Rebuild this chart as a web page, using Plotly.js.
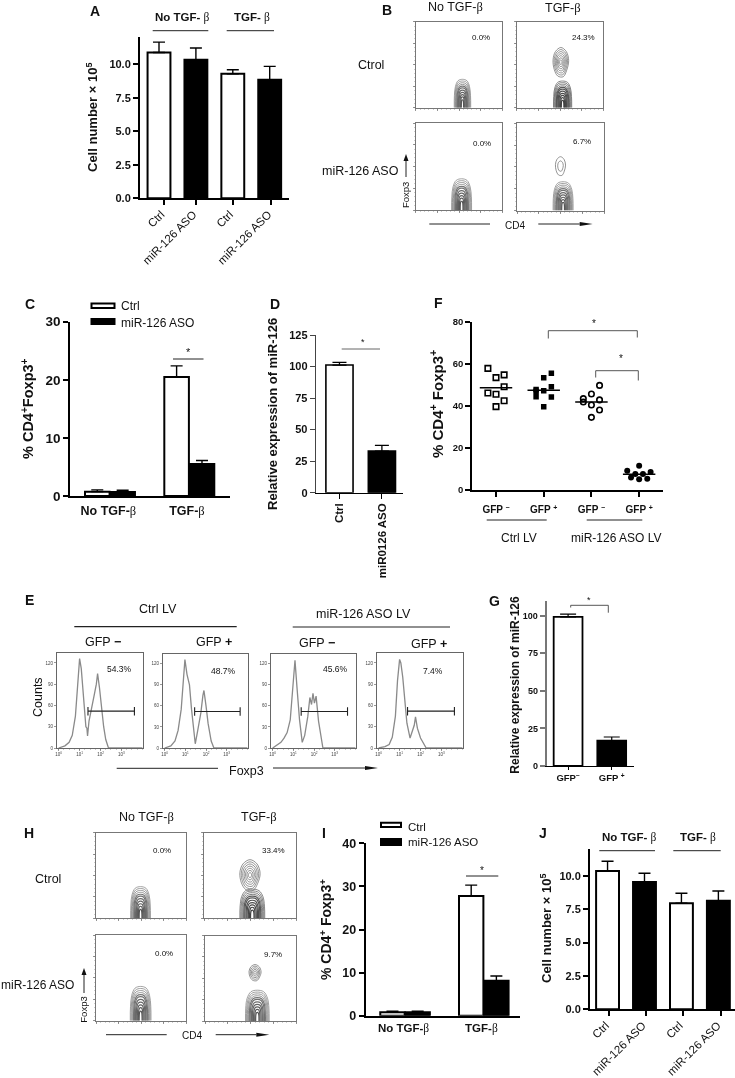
<!DOCTYPE html>
<html>
<head>
<meta charset="utf-8">
<script src="https://cdn.plot.ly/plotly-3.0.1.min.js"></script>
<style>html,body{margin:0;padding:0;background:#fff}#plot{width:735px;height:1078px;filter:blur(0.35px)}</style>
</head>
<body>
<div id="plot"></div>
<script>
const up = s => '<span style="font-size:70%;baseline-shift:super">' + s + '</span>';
// ---------- Data ----------
const aCategories = ['Ctrl','miR-126 ASO','Ctrl','miR-126 ASO'];
const aValues = [10.87,10.32,9.28,8.83];
const aErrors = [0.77,0.88,0.30,1.00];
const jValues = [10.38,9.55,7.95,8.15];
const jErrors = [0.72,0.65,0.75,0.72];
const cGroups = ['No TGF-β','TGF-β'];
const cCtrl = [0.75,20.5];
const cCtrlErr = [0.3,1.9];
const cAso = [0.7,5.5];
const cAsoErr = [0.3,0.6];
const iCtrl = [0.8,27.8];
const iCtrlErr = [0.25,2.5];
const iAso = [0.8,8.1];
const iAsoErr = [0.25,1.1];
const dCategories = ['Ctrl','miR0126 ASO'];
const dValues = [101.2,33];
const dErrors = [2.1,4.5];
const gCategories = ['GFP'+up('−'),'GFP '+up('+')];
const gValues = [99.3,16.9];
const gErrors = [1.8,2.4];
const fCategories = ['GFP '+up('−'),'GFP '+up('+'),'GFP '+up('−'),'GFP '+up('+')];
const fOpenSqX = [-.17,0,.17,.17,-.17,0,.17,0];
const fOpenSqY = [57.9,53.5,54.8,49.2,46.2,45.6,42.5,39.7];
const fFillSqX = [1.16,1,.84,1,1.16,.84,.84,1.16,1];
const fFillSqY = [55.6,53.5,47.9,47.3,49.2,47,44.4,44.3,39.7];
const fOpenCirX = [2.17,2,1.83,1.83,2.17,2,2.17,2];
const fOpenCirY = [49.8,45.7,43.5,41.9,42.9,40.5,38.1,34.6];
const fFillCirX = [3,2.75,3.24,2.92,3.08,2.83,3.17,3];
const fFillCirY = [11.6,9.2,8.6,7.6,7.6,5.9,5.4,5.1];
const fMedians = [48.7,47.5,41.9,7.5];
// histograms: log10(Foxp3) against counts
const e1X = [0,.3,.5,.65,.8,.9,1,1.08,1.15,1.22,1.3,1.35,1.38,1.45,1.55,1.7,1.8,1.86,1.95,2.05,2.15,2.25,2.38,4];
const e1Y = [0,3,8,18,45,85,126,112,85,62,30,28,17,38,55,75,90,105,85,55,30,12,0,0];
const e2X = [0,.3,.5,.65,.8,.9,.98,1.08,1.2,1.3,1.4,1.48,1.6,1.75,1.85,1.9,2,2.1,2.25,2.38,4];
const e2Y = [0,3,10,25,55,95,126,105,90,55,22,6,25,50,75,82,60,35,10,0,0];
const e3X = [0,.2,.4,.55,.7,.85,1,1.08,1.18,1.3,1.43,1.55,1.7,1.8,1.88,1.95,2.02,2.1,2.22,2.33,2.43,4];
const e3Y = [0,4,8,14,22,40,95,125,85,40,8,18,45,72,62,78,64,74,38,15,0,0];
const e4X = [0,.3,.5,.65,.8,.9,1,1.06,1.15,1.25,1.35,1.5,1.6,1.7,1.76,1.85,2,2.15,2.27,4];
const e4Y = [0,2,5,15,45,95,125,120,100,70,35,14,22,32,44,28,14,5,0,0];
const eGates = [[1.4,3.62,52],[1.45,3.65,52],[1.38,3.62,52],[1.38,3.62,52]];
// contour outlines
const domeOutlineX = [-1,-.98,-.86,-.54,0,.54,.86,.98,1];
const domeOutlineY = [0,.42,.74,.95,1,.95,.74,.42,0];
const ovalOutlineX = [0,.7,1,.75,.3,-.4,-.85,-1,-.7,0];
const ovalOutlineY = [1,.72,.1,-.55,-1,-.95,-.5,.15,.72,1];
const domeRingWidth = [1,.92,.84,.76,.68,.6,.5,.42,.32,.22,.14];
const domeRingHeight = [1,.94,.88,.82,.76,.7,.62,.54,.46,.38,.28];
const ovalRingsFull = [1,.86,.72,.58,.44,.3,.16];
const ovalRingsSparse = [1,.55];
const ovalRingsSmall = [1,.8,.6,.4,.2];
// flow panels: [centre, half width, height] for domes, [centre, half width, mid height, half height] for ovals
const b1Dome = [54,9.5,33];
const b2Dome = [53,10.5,31];
const b2Oval = [51,9,53,17];
const b3Dome = [53,11.5,36];
const b4Dome = [53,11.5,33];
const b4Oval = [50,5.8,51,10.7];
const h1Dome = [49.5,11,37];
const h2Dome = [52.5,13.5,34];
const h2Oval = [50,11,50.5,18];
const h3Dome = [49.6,11.5,40];
const h4Dome = [57.5,13,36];
const h4Oval = [55,6.6,56.6,9.4];

// ---------- Page geometry helpers ----------
const W = 735, H = 1078;
const SANS = 'Liberation Sans, Arial, sans-serif';
const px = v => v / W, py = v => 1 - v / H;
const beta = '<span style="font-family:Liberation Serif;font-weight:normal">β</span>';
const sym = s => s.replace('β', beta);
const layout = {width:W,height:H,margin:{l:0,r:0,t:0,b:0,pad:0},paper_bgcolor:'#fff',plot_bgcolor:'rgba(0,0,0,0)',
  showlegend:false,bargap:.32,bargroupgap:0,barmode:'group',annotations:[],shapes:[],font:{family:SANS,color:'#111'}};
const traces = [];
let axisId = 0;
function panel(box, xa, ya){
  axisId++;
  const s = axisId === 1 ? '' : String(axisId);
  layout['xaxis'+s] = Object.assign({domain:[px(box[0]),px(box[1])],anchor:'y'+s,fixedrange:true,zeroline:false,showgrid:false,automargin:false}, xa);
  layout['yaxis'+s] = Object.assign({domain:[py(box[3]),py(box[2])],anchor:'x'+s,fixedrange:true,zeroline:false,showgrid:false,automargin:false}, ya);
  return {xaxis:'x'+s,yaxis:'y'+s};
}
function note(text,x,y,size,o){
  o = o||{};
  layout.annotations.push({text:o.bold?'<b>'+text+'</b>':text,x:px(x),y:py(y),xref:'paper',yref:'paper',showarrow:false,
    xanchor:o.anchor||'center',yanchor:'middle',textangle:o.angle||0,font:{size:size,family:SANS,color:o.color||'#111'}});
}
function rule(x0,y0,x1,y1,w,c){
  layout.shapes.push({type:'line',xref:'paper',yref:'paper',x0:px(x0),y0:py(y0),x1:px(x1),y1:py(y1),line:{width:w||1,color:c||'#222'}});
}
function tri(a,b,c){
  const p = q => px(q[0]).toFixed(5)+','+py(q[1]).toFixed(5);
  layout.shapes.push({type:'path',xref:'paper',yref:'paper',path:'M'+p(a)+'L'+p(b)+'L'+p(c)+'Z',fillcolor:'#111',line:{width:0}});
}
function arrowRight(x0,x1,y,head){rule(x0,y,x1-head,y,1);tri([x1,y],[x1-head,y-2],[x1-head,y+2]);}
function arrowUp(x,y0,y1){rule(x,y0,x,y1+6,1);tri([x,y1],[x-2.5,y1+7],[x+2.5,y1+7]);}
function swatch(x0,y0,x1,y1,fill){
  layout.shapes.push({type:'rect',xref:'paper',yref:'paper',x0:px(x0),y0:py(y0),x1:px(x1),y1:py(y1),fillcolor:fill,line:{width:2,color:'#000'}});
}
function errBar(arr,w,t){return {type:'data',symmetric:false,array:arr,arrayminus:arr.map(()=>0),color:'#000',thickness:t||1.4,width:w||6};}
function valueAxis(range,tickvals,ticktext,size,lw,color){
  return {range:range,tickvals:tickvals,ticktext:ticktext,ticks:'outside',ticklen:5,tickwidth:lw,tickcolor:color||'#000',showline:true,
    linewidth:lw,linecolor:color||'#000',tickfont:{size:size,family:SANS,weight:'bold',color:'#111'}};
}
function catAxis(range,tickvals,ticktext,size,lw,angle,len,bold){
  return {range:range,tickmode:'array',tickvals:tickvals,ticktext:ticktext,ticks:len?'outside':'',ticklen:len||0,tickwidth:lw,tickcolor:'#000',
    showline:true,linewidth:lw,linecolor:'#000',tickangle:angle||0,tickfont:{size:size,family:SANS,weight:bold===false?'normal':'bold',color:'#111'}};
}

// ---------- Four-bar cell number panels (A, J) ----------
function fourBars(box,range,tickPos,vals,errs,categories){
  const a = panel(box,
    Object.assign(catAxis(range,tickPos,categories,11.5,2,-45,5,false),{ticklabelshift:-3,ticklabelstandoff:-2}),
    valueAxis([0,12],[0,2.5,5,7.5,10],['0.0','2.5','5.0','7.5','10.0'],11,2));
  traces.push(Object.assign({type:'bar',x:vals.map((_,i)=>i),y:vals,width:.62,
    marker:{color:['#fff','#000','#fff','#000'],line:{color:'#000',width:2}},error_y:errBar(errs,6)},a));
}
fourBars([140,288.7,37.3,198.3],[-.515,3.515],[.14,1.01,2,3.04],aValues,aErrors,aCategories);
fourBars([590,735,849.3,1009.3],[-.475,3.45],[.03,1.03,2.03,3.06],jValues,jErrors,aCategories);

// ---------- Grouped panels (C, I) ----------
function twoGroups(box,xr,ytop,ticks,ctrl,ctrlE,aso,asoE,size,gap,standoff){
  const a = panel(box,
    Object.assign(catAxis(xr,[-.02,.97],cGroups.map(sym),size,2,0,0),{ticklabelstandoff:standoff}),
    valueAxis([0,ytop],ticks,ticks.map(String),size+1,2));
  traces.push(Object.assign({type:'bar',name:'Ctrl',x:[0,1],y:ctrl,offsetgroup:'a',width:gap,offset:-gap-.005,
    marker:{color:'#fff',line:{color:'#000',width:2}},error_y:errBar(ctrlE,6)},a));
  traces.push(Object.assign({type:'bar',name:'miR-126 ASO',x:[0,1],y:aso,offsetgroup:'b',width:gap,offset:.005,
    marker:{color:'#000',line:{color:'#000',width:2}},error_y:errBar(asoE,6)},a));
}
twoGroups([70.3,230,321.7,496],[-.5,1.513],30,[0,10,20,30],cCtrl,cCtrlErr,cAso,cAsoErr,12.5,.31,2);
twoGroups([365.7,520,843.3,1015.7],[-.5,1.46],40,[0,10,20,30,40],iCtrl,iCtrlErr,iAso,iAsoErr,11.5,.31,0);

// ---------- Panel D ----------
const dA = panel([315.7,402.7,335,492.7],
  catAxis([-.56,1.49],[0,1],dCategories,11.5,1,-90,5),
  valueAxis([0,125],[0,25,50,75,100,125],['0','25','50','75','100','125'],11,1,'#444'));
traces.push(Object.assign({type:'bar',x:[0,1],y:dValues,width:.64,marker:{color:['#fff','#000'],line:{color:'#000',width:1.6}},error_y:errBar(dErrors,7,1.3)},dA));

// ---------- Panel G ----------
const gA = panel([546.7,634,600.7,766],
  catAxis([-.49,1.51],[0,1],gCategories,9.5,1,0,3),
  valueAxis([0,110],[0,25,50,75,100],['0','25','50','75','100'],9,2,'#777'));
traces.push(Object.assign({type:'bar',x:[0,1],y:gValues,width:.66,marker:{color:['#fff','#000'],line:{color:'#000',width:1.8}},error_y:errBar(gErrors,8,1.2)},gA));

// ---------- Panel F ----------
const fA = panel([472.3,663,322,490],
  Object.assign(catAxis([-.497,3.5],[0,1,2,3],fCategories,10,2,0,5),{ticklabelstandoff:4}),
  valueAxis([0,80],[0,20,40,60,80],['0','20','40','60','80'],9.5,2,'#000'));
function dots(x,y,symbol,size){
  const open = symbol.includes('open');
  traces.push(Object.assign({type:'scatter',mode:'markers',x:x,y:y,marker:{symbol:symbol,size:size,color:'#000',line:{width:open?1.6:0,color:'#000'}}},fA));
}
dots(fOpenSqX,fOpenSqY,'square-open',5.5);
dots(fFillSqX,fFillSqY,'square',5.5);
dots(fOpenCirX,fOpenCirY,'circle-open',5.5);
dots(fFillCirX,fFillCirY,'circle',6);
fMedians.forEach((m,i)=>traces.push(Object.assign({type:'scatter',mode:'lines',x:[i-.34,i+.34],y:[m,m],line:{color:'#000',width:1.6}},fA)));

// ---------- Histogram panels (E) ----------
const logTicks = [0,1,2,3];
const logText = ['10'+up('0'),'10'+up('1'),'10'+up('2'),'10'+up('3')];
function hist(box,x,y,gate){
  const a = panel(box,
    {range:[-.08,4.03],tickvals:logTicks,ticktext:logText,ticks:'outside',ticklen:2,tickwidth:.6,tickcolor:'#555',showline:true,mirror:true,linewidth:1,linecolor:'#666',
     tickfont:{size:4.5,color:'#444'},minor:{ticks:'outside',ticklen:1,tickwidth:.4,tickcolor:'#777',dtick:.25}},
    {range:[0,134],tickvals:[0,30,60,90,120],ticktext:['0','30','60','90','120'],ticks:'outside',ticklen:2,tickwidth:.6,tickcolor:'#555',showline:true,mirror:true,linewidth:1,linecolor:'#666',
     tickfont:{size:4.5,color:'#444'}});
  traces.push(Object.assign({type:'scatter',mode:'lines',x:x,y:y,line:{color:'#8a8a8a',width:1.3}},a));
  traces.push(Object.assign({type:'scatter',mode:'lines',x:[gate[0],gate[0],gate[0],gate[1],gate[1],gate[1]],y:[gate[2]-6,gate[2]+6,gate[2],gate[2],gate[2]+6,gate[2]-6],line:{color:'#222',width:1.1}},a));
}
hist([57,143,653,748],e1X,e1Y,eGates[0]);
hist([163,248,654,748],e2X,e2Y,eGates[1]);
hist([271,356,654,748],e3X,e3Y,eGates[2]);
hist([377,463,653,748],e4X,e4Y,eGates[3]);

// ---------- Contour panels (B, H) ----------
const flowTicks = [0,25,50,75,100];
function flow(box,dome,oval,ovalRings,dark){
  const axisOpts = {range:[0,100],tickvals:flowTicks,showticklabels:false,ticks:'outside',ticklen:2,tickwidth:.7,tickcolor:'#666',
    showline:true,mirror:true,linewidth:1,linecolor:'#777',minor:{ticks:'outside',ticklen:1,tickwidth:.4,tickcolor:'#888',dtick:5}};
  const a = panel(box,Object.assign({},axisOpts),Object.assign({},axisOpts));
  domeRingWidth.forEach((rw,i)=>{
    const shade = i/domeRingWidth.length;
    const grey = Math.round((dark?105:140)-shade*(dark?45:60));
    traces.push(Object.assign({type:'scatter',mode:'lines',
      x:domeOutlineX.map(v=>dome[0]+v*dome[1]*rw),
      y:domeOutlineY.map(v=>v*dome[2]*domeRingHeight[i]),
      line:{color:'rgb('+grey+','+grey+','+grey+')',width:i>3?1.2:.8,shape:'spline',smoothing:1}},a));
  });
  if(oval) ovalRings.forEach(s=>{
    traces.push(Object.assign({type:'scatter',mode:'lines',
      x:ovalOutlineX.map(v=>oval[0]+v*oval[1]*s),
      y:ovalOutlineY.map(v=>oval[2]+v*oval[3]*s),
      line:{color:'#777',width:.8,shape:'spline',smoothing:1}},a));
  });
}
flow([415.7,502.3,21.7,107.7],b1Dome,null,null,false);
flow([516.7,603.3,21.7,107.7],b2Dome,b2Oval,ovalRingsFull,true);
flow([415.7,502.3,123.3,210],b3Dome,null,null,false);
flow([517,604,123.3,210.5],b4Dome,b4Oval,ovalRingsSparse,false);
flow([96,186,832.7,918.3],h1Dome,null,null,false);
flow([204,296,832.7,918.3],h2Dome,h2Oval,ovalRingsFull,true);
flow([96,186,935,1020.7],h3Dome,null,null,false);
flow([205,296,935.5,1021],h4Dome,h4Oval,ovalRingsSmall,false);

// ---------- Text and furniture ----------
[['A',95,11],['B',387,10],['C',30,304],['D',275,304],['E',30,600],['F',438,303],['G',494,601],['H',29,833],['I',324,833],['J',543,833]]
  .forEach(l=>note(l[0],l[1],l[2],14,{bold:true}));

// A
note('Cell number × 10'+up('5'),92,118,13,{bold:true,angle:-90});
note(sym('No TGF- β'),182,18,11.5,{bold:true});
note(sym('TGF- β'),252,18,11.5,{bold:true});
rule(152.7,30.7,208.3,30.7,1);rule(226.7,30.7,274,30.7,1);
// B
note(sym('No TGF-β'),455.7,7,12.5);note(sym('TGF-β'),562.7,8,12.5);
note('Ctrol',371,65,12.5);note('miR-126 ASO',360.5,171,12.5);
note('0.0%',480.7,38,8);note('24.3%',583,38,8);note('0.0%',482,143,8);note('6.7%',581.7,142,8);
note('Foxp3',405,195,9.5,{angle:-90});arrowUp(406,177,154);
note('CD4',515,225,10);rule(429.3,224,490,224,1);arrowRight(538.3,592.7,224,13);
// C
note('% CD4'+up('+')+'Foxp3'+up('+'),27,409,14.5,{bold:true,angle:-90});
swatch(91.5,303.5,114.5,308,'#fff');swatch(91.5,319,114.5,324,'#000');
note('Ctrl',119,306,12,{anchor:'left'});note('miR-126 ASO',119,322.5,12,{anchor:'left'});
note('*',188,352,11);rule(173,359,203.5,359,1);
// D
note('Relative expression of miR-126',273,414,13,{bold:true,angle:-90});
note('*',362.7,342,9);rule(341.7,349,380,349,1,'#666');
// E
note('Ctrl LV',157.7,609,12.5);rule(74.3,626.7,236.7,626.7,1.2);
note('miR-126 ASO LV',363,614,12.5);rule(292.7,627,450,627,1.2);
note('GFP <b>−</b>',103,641.7,12.5);note('GFP <b>+</b>',214,642,12.5);note('GFP <b>−</b>',316.7,643,12.5);note('GFP <b>+</b>',429,644,12.5);
note('54.3%',120,669,8.5);note('48.7%',223,671,8.5);note('45.6%',335.7,669,8.5);note('7.4%',433,671,8.5);
note('Counts',38,697,12.5,{angle:-90});
note('Foxp3',246,770.7,12.5);rule(116.7,768.3,218,768.3,1);arrowRight(273,378,768,13);
// F
note('% CD4'+up('+')+' Foxp3'+up('+'),436,404,15,{bold:true,angle:-90});
rule(486.7,520,546.7,520,1.2);rule(586.7,520,642.3,520,1.2);
note('Ctrl LV',519,538.3,12);note('miR-126 ASO LV',616,538.3,12);
note('*',594,323,10);note('*',621,358,10);
rule(548.3,330.7,637.3,330.7,.9,'#444');rule(548.3,330.7,548.3,338.5,.9,'#444');rule(637.3,330.7,637.3,337.5,.9,'#444');
rule(595.7,370.7,638.3,370.7,.9,'#444');rule(595.7,370.7,595.7,377.5,.9,'#444');rule(638.3,370.7,638.3,380.5,.9,'#444');
// G
note('Relative expression of miR-126',515,684.7,12,{bold:true,angle:-90});
note('*',589.3,600,9);
rule(570.7,605.3,608.3,605.3,.9,'#444');rule(570.7,605.3,570.7,607.5,.9,'#444');rule(608.3,605.3,608.3,612.7,.9,'#444');
// H
note(sym('No TGF-β'),146.7,817,12.5);note(sym('TGF-β'),259,817,12.5);
note('Ctrol',48,879,12.5);note('miR-126 ASO',76,985,12,{anchor:'right'});
note('0.0%',162.3,850.7,8);note('33.4%',273.3,850,8);note('0.0%',164,953,8);note('9.7%',272.7,954,8);
note('Foxp3',82.7,1010,9.5,{angle:-90});arrowUp(84,993,968);
note('CD4',192,1035.7,10);rule(106,1034.7,166.7,1034.7,1);arrowRight(215.7,269.3,1034.7,13);
// I
note('% CD4'+up('+')+' Foxp3'+up('+'),325,930,14,{bold:true,angle:-90});
swatch(381,822.7,401,827,'#fff');swatch(381,839,401,845,'#000');
note('Ctrl',406,826.7,11.5,{anchor:'left'});note('miR-126 ASO',406,842.3,11.5,{anchor:'left'});
note('*',482,870,10);rule(466,876,498.3,876,1);
// J
note('Cell number × 10'+up('5'),546.7,928.3,13,{bold:true,angle:-90});
note(sym('No TGF- β'),629,837,11.5,{bold:true});note(sym('TGF- β'),698.3,837,11.5,{bold:true});
rule(599.3,850.7,655,850.7,1);rule(673.3,850.7,720.7,850.7,1);

Plotly.newPlot('plot',traces,layout,{displayModeBar:false,responsive:false,staticPlot:true});
</script>
</body>
</html>
